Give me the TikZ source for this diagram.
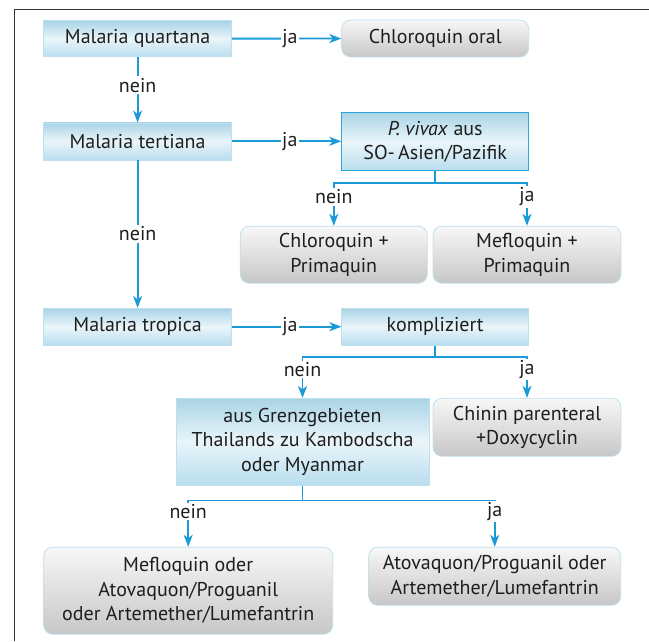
\documentclass[tikz,border=0pt]{standalone}
\usepackage{fontspec}
\setmainfont{PT Sans}
\usepackage{xcolor}
\usetikzlibrary{arrows.meta,positioning,calc}

\definecolor{flowblue}{HTML}{1A9AD6}
\definecolor{boxblue}{HTML}{A9D4E6}
\definecolor{boxlight}{HTML}{EAF5FA}
\definecolor{boxbottom}{HTML}{B8DDEE}
\definecolor{rimblue}{HTML}{2AA8DC}
\definecolor{rimlight}{HTML}{BFE0EE}
\definecolor{framegray}{HTML}{333333}
\definecolor{inkgray}{HTML}{1E1E1E}

\begin{document}
\begin{tikzpicture}[x=1pt,y=-1pt]
  \useasboundingbox (0,0) rectangle (649,641);
  % Define box and arrow styles
  \tikzset{question/.style={shade, top color=boxblue, bottom color=boxbottom, middle color=boxlight,
      draw=rimlight, line width=0.6pt, align=center, text=inkgray, inner sep=2pt,
      font=\fontsize{20}{24.5}\selectfont}}
  \tikzset{therapy/.style={shade, top color=white!97!black, bottom color=black!22, draw=rimlight,
      line width=0.8pt, rounded corners=9pt, align=center, text=inkgray, inner sep=2pt,
      font=\fontsize{20}{24.5}\selectfont}}
  \tikzset{flow/.style={draw=flowblue, line width=1.8pt, -{Stealth[length=12pt,width=9pt,inset=3.5pt]}}}
  \tikzset{lbl/.style={fill=white, inner sep=1.5pt, text=inkgray, font=\fontsize{20}{22}\selectfont}}
  % Frame on the top and left side
  \draw[framegray, line width=1pt] (14.5,641) -- (14.5,9.5) -- (649,9.5);
  % Left column: the three forms
  \node[question, minimum width=188pt, minimum height=36pt] (quartana) at (137.6,38.7) {Malaria quartana};
  \node[question, minimum width=188pt, minimum height=37pt] (tertiana) at (137.6,141.3) {Malaria tertiana};
  \node[question, minimum width=188pt, minimum height=37pt] (tropica) at (137.6,326.7) {Malaria tropica};
  % Right column
  \node[therapy, minimum width=187pt, minimum height=37pt] (chlorooral) at (435.2,38.5) {Chloroquin oral};
  \node[question, draw=rimblue, line width=1pt, minimum width=187pt, minimum height=58pt] (vivax) at (435.2,141.7)
      {\textit{P.~vivax} aus\\SO-\,Asien/Pazifik};
  \node[therapy, minimum width=187pt, minimum height=57pt] (chloroprima) at (333.8,254.7) {Chloroquin +\\Primaquin};
  \node[therapy, minimum width=188pt, minimum height=57pt] (mefloprima) at (527,254.7) {Mefloquin +\\Primaquin};
  \node[question, minimum width=187pt, minimum height=37pt] (kompl) at (435.2,326.7) {kompliziert};
  \node[question, minimum width=253pt, minimum height=87pt] (grenz) at (302.5,441.7)
      {aus Grenzgebieten\\Thailands zu Kambodscha\\oder Myanmar};
  \node[therapy, minimum width=188pt, minimum height=58pt] (chinin) at (527,427.2) {Chinin parenteral\\+Doxycyclin};
  \node[therapy, minimum width=289pt, minimum height=87pt] (meflooder) at (188.2,590.7)
      {Mefloquin oder\\Atovaquon/Proguanil\\oder Artemether/Lumefantrin};
  \node[therapy, minimum width=252pt, minimum height=58pt] (atova) at (494.7,576.2)
      {Atovaquon/Proguanil oder\\Artemether/Lumefantrin};
  % ja arrows to the right
  \draw[flow] (quartana) -- node[lbl, pos=0.53] {ja} (chlorooral);
  \draw[flow] (tertiana) -- node[lbl, pos=0.53] {ja} (vivax.west |- tertiana);
  \draw[flow] (tropica) -- node[lbl, pos=0.53] {ja} (kompl);
  % nein arrows downwards
  \draw[flow] (quartana) -- node[lbl, pos=0.43] {nein} (tertiana);
  \draw[flow] (tertiana) -- node[lbl] {nein} (tropica);
  % Branches
  \draw[flow] (vivax.south) -- ++(0,12) -| node[lbl, pos=0.66] {nein} (chloroprima.north);
  \draw[flow] (vivax.south) -- ++(0,12) -| node[lbl, pos=0.66] {ja} (mefloprima.north);
  \draw[flow] (kompl.south) -- ++(0,11.7) -| node[lbl, pos=0.65] {nein} (grenz.north);
  \draw[flow] (kompl.south) -- ++(0,11.7) -| node[lbl, pos=0.65] {ja} (chinin.north);
  \draw[flow] (grenz.south) -- ++(0,15) -| node[lbl, pos=0.62] {nein} (meflooder.north);
  \draw[flow] (grenz.south) -- ++(0,15) -| node[lbl, pos=0.62] {ja} (atova.north);
\end{tikzpicture}
\end{document}
